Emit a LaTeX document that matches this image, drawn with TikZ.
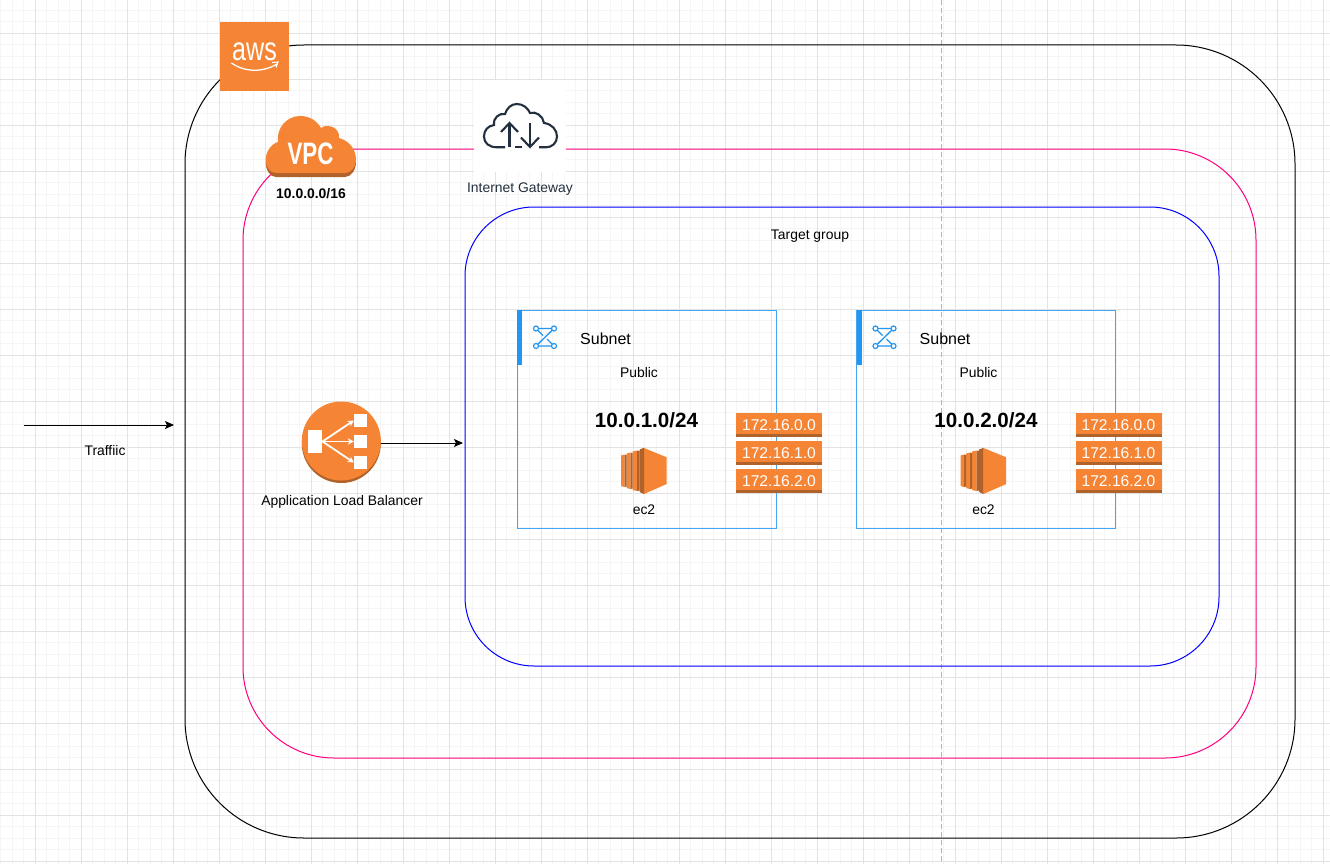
\documentclass[tikz,border=0pt]{standalone}
\usepackage{fontspec}
\setmainfont{Liberation Sans}
\usepackage{xcolor}
\usetikzlibrary{arrows.meta}
\definecolor{awsorange}{HTML}{F58534}
\definecolor{awsdark}{HTML}{B0622B}
\definecolor{vpcpink}{HTML}{FF0080}
\definecolor{tgblue}{HTML}{0000FF}
\definecolor{snblue}{HTML}{2196F3}
\definecolor{igwdark}{HTML}{232F3E}
\begin{document}
\begin{tikzpicture}[
    x=1pt, y=-1pt,
    >={Stealth[length=9pt,width=8pt,inset=2pt]},
    gridminor/.style={draw=black!4, line width=0.8pt},
    gridmajor/.style={draw=black!11, line width=0.8pt},
    region/.style={draw, line width=1pt, inner sep=0pt, outer sep=0pt},
    subnetbox/.style={draw=snblue!85, line width=1pt, inner sep=0pt, outer sep=0pt,
                      minimum width=259pt, minimum height=218pt},
    tag/.style={fill=awsorange, inner sep=0pt, outer sep=0pt, minimum width=86pt, minimum height=24pt,
                text=white, font=\fontsize{15.6}{18}\selectfont},
    lbl/.style={inner sep=0pt, text height=14pt, text depth=3pt, font=\fontsize{13.9}{16}\selectfont},
    albarrow/.style={white, line width=1.8pt, -{Stealth[length=6pt,width=6.5pt]}},
    igwline/.style={igwdark, line width=2.1pt}
  ]
  \useasboundingbox (0,0) rectangle (1330,864);
  \fill[white] (0,0) rectangle (1330,864);

  % paper grid
  \foreach \i in {0,...,116} {
    \draw[gridminor] ({\i*11.5-11},0) -- ({\i*11.5-11},864);
  }
  \foreach \i in {0,...,76} {
    \draw[gridminor] (0,{\i*11.5-13}) -- (1330,{\i*11.5-13});
  }
  \foreach \i in {0,...,29} {
    \draw[gridmajor] ({\i*46-11},0) -- ({\i*46-11},864);
  }
  \foreach \i in {0,...,19} {
    \draw[gridmajor] (0,{\i*46-13}) -- (1330,{\i*46-13});
  }
  \draw[black!30, line width=0.8pt, dash pattern=on 5pt off 3pt] (941,0) -- (941,864);

  % regions
  \node[region, draw=black, rounded corners=119pt, minimum width=1110pt, minimum height=793pt] (cloudbox) at (740,441.5) {};
  \node[region, draw=vpcpink, rounded corners=91pt, minimum width=1013pt, minimum height=609pt] (vpcbox) at (749.5,453.5) {};
  \node[region, draw=tgblue, rounded corners=69pt, minimum width=754pt, minimum height=459pt] (tgbox) at (842,436.5) {};
  \node[lbl] (tglabel) at (810,234) {Target group};

  % aws badge
  \node[fill=awsorange, inner sep=0pt, minimum width=69pt, minimum height=69pt] (awslogo) at (254,56.5) {};
  \node[inner sep=0pt, text=white, font=\fontsize{33}{33}\selectfont] (awstext) at (254.5,51.5) {\scalebox{.76}[1]{aws}};
  \draw[white, line width=1.3pt] (231.5,63) .. controls (245,72.5) and (263,72.5) .. (277,64);
  \draw[white, line width=1.1pt] (272,62.5) -- (278,62) -- (276,67.5);

  % vpc cloud
  \fill[awsdark] (265.7,162) .. controls (265.7,170) and (270,177) .. (276,177) -- (345,177)
    .. controls (351,177) and (356,170) .. (356,162) -- cycle;
  \fill[awsorange] (276,173) .. controls (270,173) and (265.7,167) .. (265.7,160)
    .. controls (265.7,152) and (271,144) .. (278,142)
    .. controls (276,128) and (287,116) .. (300,116)
    .. controls (310,116) and (317,121) .. (321,128)
    .. controls (324,125.5) and (328,126) .. (331,126.5)
    .. controls (335,127) and (340,132) .. (339,138)
    .. controls (350,141) and (356,150) .. (356,160)
    .. controls (356,167) and (351,173) .. (345,173) -- cycle;
  \node[inner sep=0pt, text=white, font=\fontsize{31}{31}\selectfont\bfseries] (vpctext) at (310.5,154) {\scalebox{.72}[1]{VPC}};
  \node[lbl, font=\fontsize{13.9}{16}\selectfont\bfseries] (vpclabel) at (311,193) {10.0.0.0/16};

  % internet gateway
  \node[fill=white, inner sep=0pt, minimum width=92pt, minimum height=92pt] (igw) at (520,126) {};
  \draw[igwline]
    (505,147.3) -- (497,147.3) .. controls (489,147.3) and (484,143) .. (484,136.5)
    .. controls (484,130) and (488,126) .. (494,125)
    .. controls (493,118) and (499,113) .. (505,114)
    .. controls (507,108) and (511,104) .. (517,104)
    .. controls (523,104) and (528,108) .. (530,113)
    .. controls (536,111) and (543,116) .. (544,123)
    .. controls (552,124) and (557,130) .. (557,136.5)
    .. controls (557,143) and (552,147.3) .. (546,147.3) -- (539,147.3);
  \draw[igwline] (515,147.3) -- (522,147.3);
  \draw[igwline] (509.5,147.3) -- (509.5,124);
  \draw[igwline] (501,132) -- (509.5,123) -- (518,132);
  \draw[igwline] (530,123) -- (530,147);
  \draw[igwline] (521,137.5) -- (530,147) -- (539,137.5);
  \node[lbl, text=igwdark] (igwlabel) at (520,187) {Internet Gateway};

  % load balancer
  \fill[awsdark] (341.3,443.5) circle (39.5pt);
  \node[circle, fill=awsorange, inner sep=0pt, outer sep=0pt, minimum size=79pt] (alb) at (341.3,441) {};
  \node[fill=white, inner sep=0pt, minimum width=14.5pt, minimum height=23.5pt] (albsrc) at (315,441.5) {};
  \node[fill=white, inner sep=0pt, minimum size=13pt] (albtop) at (360.5,420.5) {};
  \node[fill=white, inner sep=0pt, minimum size=13pt] (albmid) at (360.5,441.5) {};
  \node[fill=white, inner sep=0pt, minimum size=13pt] (albbot) at (360.5,462.5) {};
  \draw[albarrow] (albsrc.east) -- (albtop.west);
  \draw[albarrow] (albsrc.east) -- (albmid.west);
  \draw[albarrow] (albsrc.east) -- (albbot.west);
  \node[lbl] (alblabel) at (342,500) {Application Load Balancer};

  % traffic
  \coordinate (trafficin) at (24,425);
  \coordinate (trafficout) at (174,425);
  \draw[->, line width=1pt] (trafficin) -- (trafficout);
  \node[lbl] (trafficlabel) at (105,450) {Traffiic};
  \coordinate (albout) at (463,443);
  \draw[->, line width=1pt] (alb.east |- albout) -- (albout);

  % subnets
  \foreach \dx/\id/\cidr in {0/a/10.0.1.0, 339.5/b/10.0.2.0} {
    \begin{scope}[xshift=\dx pt]
      \node[subnetbox] (subnet\id) at (646.5,419) {};
      \fill[snblue] (517,310) rectangle (522,364.5);
      \draw[snblue, line width=1.3pt] (536,328.5) -- (554,328.5) -- (536,346) -- (554,346);
      \draw[snblue, line width=1.3pt] (536,328.5) -- (543,335.5);
      \draw[snblue, line width=1.3pt] (547,339) -- (554,346);
      \foreach \cx/\cy in {536/328.5, 554/328.5, 536/346, 554/346} {
        \draw[snblue, fill=white, line width=1.2pt] (\cx,\cy) circle (2.5pt);
      }
      \node[lbl, font=\fontsize{16}{18}\selectfont, anchor=west] (subnettitle\id) at (580,338.5) {Subnet};
      \node[lbl] (public\id) at (639,372) {Public};
      \node[inner sep=0pt, font=\fontsize{20.6}{22}\selectfont\bfseries] (cidr\id) at (646.5,420) {\cidr/24};

      % ec2 icon
      \fill[awsorange] (644,448) -- (666.7,457.3) -- (666.7,484) -- (644,494) -- cycle;
      \fill[awsdark] (639.5,449.5) -- (644,447.8) -- (644,494) -- (639.5,492) -- cycle;
      \fill[awsorange] (632.5,451.5) -- (637,450.5) -- (637,491) -- (632.5,490) -- cycle;
      \fill[awsdark] (637,450.5) -- (639.5,451) -- (639.5,490.5) -- (637,491) -- cycle;
      \fill[awsorange] (626.5,453.5) -- (630.5,452.5) -- (630.5,489) -- (626.5,488) -- cycle;
      \fill[awsdark] (630.5,452.5) -- (632.5,453) -- (632.5,488.5) -- (630.5,489) -- cycle;
      \fill[awsorange] (621,455.5) -- (624.5,454.5) -- (624.5,487) -- (621,486) -- cycle;
      \fill[awsdark] (624.5,454.5) -- (626.5,455) -- (626.5,486.5) -- (624.5,487) -- cycle;
      \node[lbl] (ec2label\id) at (644,509) {ec2};

      % route tags
      \foreach \k/\ty in {0/425, 1/453, 2/481} {
        \node[tag] (tag\id\k) at (779,\ty) {172.16.\k.0};
        \fill[awsdark] (736,{\ty+9}) rectangle (822,{\ty+12});
      }
    \end{scope}
  }
\end{tikzpicture}
\end{document}
